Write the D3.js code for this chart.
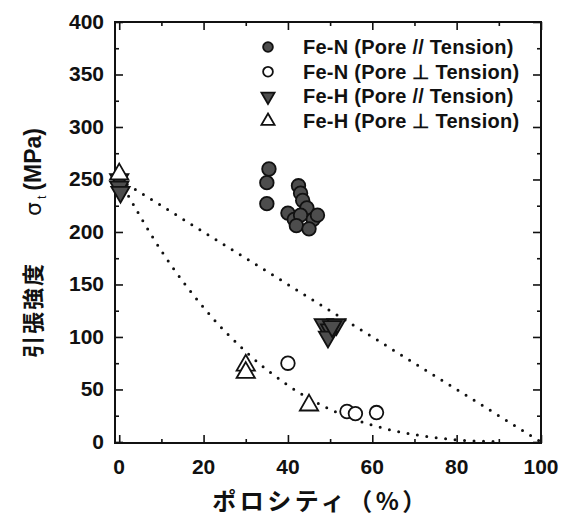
<!DOCTYPE html>
<html>
<head>
<meta charset="utf-8">
<script src="https://cdn.jsdelivr.net/npm/d3@7"></script>
<style>
body{margin:0;background:#fff;}
text{font-family:"Liberation Sans",Arial,sans-serif;font-weight:bold;fill:#111;}
.jp{font-family:"Noto Sans CJK JP",sans-serif;}
</style>
</head>
<body>
<script>
// values: [porosity %, tensile strength MPa]
var feNPar = [[35.5,260],[35,247],[35,227],[42.5,244],[43,237],[43.5,230],[44.5,223],[40,218],[41.5,212],[43,216],[42,206],[46,212],[45,203],[47,216]];
var feNPerp = [[40,75],[54,29],[56,27],[61,28]];
var feHPar = [[0,250],[0,243],[0.3,238],[48.5,112],[51.5,112],[50,107],[49.5,100],[50.5,110]];
var feHPerp = [[0,255],[30,73],[30,66],[45,35]];

// dotted guide lines
var lineX = [0,100];
var lineY = [250,0];
var curveX = [0,10,20,30,40,50,60,70,80,90];
var curveY = [250,182,128,86,54,31,16,7,2,0.3];

var xTicks = [0,20,40,60,80,100];
var yTicks = [0,50,100,150,200,250,300,350,400];
var legendNames = ["Fe-N (Pore // Tension)","Fe-N (Pore \u22a5 Tension)","Fe-H (Pore // Tension)","Fe-H (Pore \u22a5 Tension)"];

var drawChart = function(){
var W = 571, H = 519;
var pLeft = 115, pRight = 541, pTop = 22, pBottom = 443;

var svg = d3.select("body").append("svg").attr("width",W).attr("height",H);

var x = d3.scaleLinear().domain([-1,100]).range([pLeft,pRight]);
var y = d3.scaleLinear().domain([-1,400]).range([pBottom,pTop]);

// frame
svg.append("rect").attr("x",pLeft).attr("y",pTop).attr("width",pRight-pLeft).attr("height",pBottom-pTop)
  .attr("fill","none").attr("stroke","#111").attr("stroke-width",2);

// inward ticks on all four sides, major + minor
var xMinor = d3.range(10,100,20), yMinor = d3.range(25,400,50);
var addTicks = function(axis, tx, ty, vals, len){
  svg.append("g").attr("transform","translate("+tx+","+ty+")")
    .call(axis.tickValues(vals).tickSize(-len).tickFormat(""))
    .call(function(g){g.select(".domain").remove();});
};
addTicks(d3.axisBottom(x),0,pBottom,xTicks,8);
addTicks(d3.axisBottom(x),0,pBottom,xMinor,4);
addTicks(d3.axisTop(x),0,pTop,xTicks,8);
addTicks(d3.axisTop(x),0,pTop,xMinor,4);
addTicks(d3.axisLeft(y),pLeft,0,yTicks,8);
addTicks(d3.axisLeft(y),pLeft,0,yMinor,4);
addTicks(d3.axisRight(y),pRight,0,yTicks,8);
addTicks(d3.axisRight(y),pRight,0,yMinor,4);
svg.selectAll(".tick line").attr("stroke","#111").attr("stroke-width",1.6);

// tick labels
svg.selectAll(".xl").data(xTicks).enter().append("text")
  .attr("x",function(d){return x(d);}).attr("y",474)
  .attr("text-anchor","middle").attr("font-size",21).text(function(d){return d;});
svg.selectAll(".yl").data(yTicks).enter().append("text")
  .attr("x",104).attr("y",function(d){return y(d)+7;})
  .attr("text-anchor","end").attr("font-size",21).text(function(d){return d;});

// axis titles
svg.append("text").attr("class","jp").attr("x",321).attr("y",510)
  .attr("text-anchor","middle").attr("font-size",24).attr("letter-spacing",3.5)
  .text("ポロシティ（%）");
var yt = svg.append("text").attr("transform","translate(41,358) rotate(-90)")
  .attr("text-anchor","start").attr("font-size",22);
yt.append("tspan").attr("class","jp").attr("letter-spacing",2).text("引張強度");
yt.append("tspan").attr("dx",46).attr("font-weight","normal").attr("font-family","DejaVu Sans").text("σ");
yt.append("tspan").attr("dy",5).attr("dx",3).attr("font-size",12).attr("font-weight","normal").text("t");
yt.append("tspan").attr("dy",-5).attr("dx",5).attr("font-size",23).text("(MPa)");

// dotted guides
var dotted = d3.line().x(function(d){return x(d[0]);}).y(function(d){return y(d[1]);});
svg.append("path").datum(d3.zip(lineX,lineY)).attr("d",dotted)
  .attr("fill","none").attr("stroke","#111").attr("stroke-width",3)
  .attr("stroke-linecap","round").attr("stroke-dasharray","0,9.5");
svg.append("path").datum(d3.zip(curveX,curveY)).attr("d",dotted.curve(d3.curveMonotoneX))
  .attr("fill","none").attr("stroke","#111").attr("stroke-width",3)
  .attr("stroke-linecap","round").attr("stroke-dasharray","0,9.5");

// markers
var styles = [
  {data:feNPar, type:d3.symbolCircle, fill:"#4d4d4d", rot:0},
  {data:feNPerp, type:d3.symbolCircle, fill:"#fff", rot:0},
  {data:feHPar, type:d3.symbolTriangle, fill:"#4d4d4d", rot:180},
  {data:feHPerp, type:d3.symbolTriangle, fill:"#fff", rot:0}
];
styles.forEach(function(s){
  svg.append("g").selectAll("path").data(s.data).enter().append("path")
    .attr("d",d3.symbol().type(s.type).size(145))
    .attr("transform",function(d){return "translate("+x(d[0])+","+y(d[1])+") rotate("+s.rot+")";})
    .attr("fill",s.fill).attr("stroke","#111").attr("stroke-width",1.8);
});

// legend
var lg = svg.append("g").selectAll("g").data(styles).enter().append("g")
  .attr("transform",function(d,i){return "translate(268,"+(47+i*24.7)+")";});
lg.append("path")
  .attr("d",function(d){return d3.symbol().type(d.type).size(75)();})
  .attr("transform",function(d){return "rotate("+d.rot+")";})
  .attr("fill",function(d){return d.fill;}).attr("stroke","#111").attr("stroke-width",1.8);
lg.append("text").attr("x",35).attr("y",7).attr("font-size",20).attr("letter-spacing",0.25)
  .text(function(d,i){return legendNames[i];});
};
drawChart();
</script>
</body>
</html>
